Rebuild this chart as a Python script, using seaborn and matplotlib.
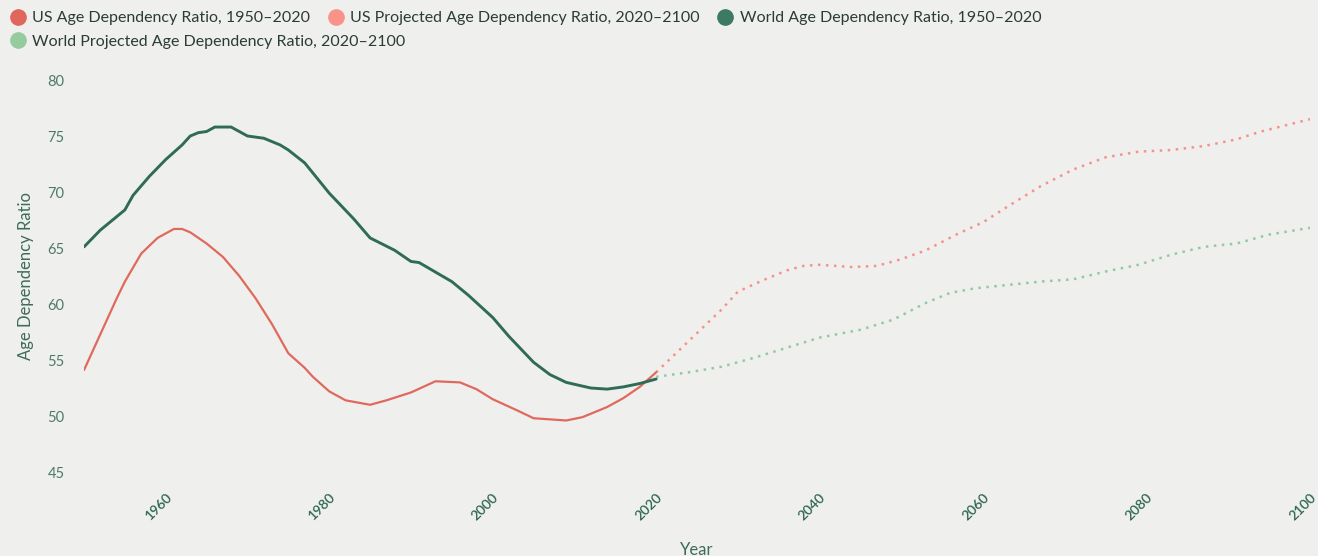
import numpy as np
import pandas as pd
import matplotlib
matplotlib.use("Agg")
import matplotlib.pyplot as plt
import matplotlib.transforms as mtransforms
from matplotlib.lines import Line2D
import seaborn as sns

# ---- data ----
us_years = [1950, 1952, 1954, 1955, 1957, 1959, 1960, 1961, 1962, 1963, 1965, 1967, 1969,
            1971, 1973, 1975, 1977, 1978, 1980, 1982, 1985, 1987, 1990, 1993, 1996, 1998,
            2000, 2003, 2005, 2007, 2009, 2011, 2014, 2016, 2018, 2020]
us_vals = [54.1, 57.3, 60.5, 62.0, 64.5, 65.9, 66.3, 66.7, 66.7, 66.4, 65.4, 64.2, 62.5,
           60.5, 58.2, 55.6, 54.3, 53.5, 52.2, 51.4, 51.0, 51.4, 52.1, 53.1, 53.0, 52.4,
           51.5, 50.5, 49.8, 49.7, 49.6, 49.9, 50.8, 51.6, 52.6, 53.9]

us_proj_years = [2020, 2022, 2025, 2028, 2030, 2033, 2036, 2038, 2040, 2044, 2047,
                 2050, 2053, 2057, 2060, 2063, 2067, 2071, 2075, 2079, 2083, 2087,
                 2091, 2094, 2100]
us_proj_vals = [53.9, 55.3, 57.4, 59.5, 61.1, 62.1, 63.0, 63.4, 63.5, 63.3, 63.4,
                64.0, 64.8, 66.3, 67.3, 68.7, 70.5, 72.0, 73.1, 73.6, 73.75, 74.1,
                74.7, 75.4, 76.5]

world_years = [1950, 1952, 1954, 1955, 1956, 1958, 1960, 1962, 1963, 1964, 1965, 1966, 1968,
               1970, 1972, 1974, 1975, 1977, 1980, 1983, 1985, 1988, 1990, 1991, 1995,
               1997, 2000, 2002, 2005, 2007, 2009, 2012, 2014, 2016, 2018, 2020]
world_vals = [65.1, 66.6, 67.8, 68.4, 69.7, 71.4, 72.9, 74.2, 75.0, 75.3, 75.4, 75.8, 75.8,
              75.0, 74.8, 74.2, 73.75, 72.6, 69.9, 67.6, 65.9, 64.8, 63.8, 63.7, 62.0,
              60.8, 58.8, 57.1, 54.8, 53.7, 53.0, 52.5, 52.4, 52.6, 52.9, 53.3]

world_proj_years = [2020, 2024, 2028, 2032, 2036, 2040, 2045, 2049, 2053, 2056, 2059,
                    2067, 2071, 2075, 2079, 2083, 2087, 2091, 2095, 2100]
world_proj_vals = [53.5, 53.9, 54.4, 55.2, 56.1, 57.0, 57.7, 58.6, 60.1, 61.0, 61.4,
                   62.0, 62.2, 62.9, 63.5, 64.4, 65.1, 65.4, 66.2, 66.8]

series_labels = ["US Age Dependency Ratio, 1950\u20132020",
                 "US Projected Age Dependency Ratio, 2020\u20132100",
                 "World Age Dependency Ratio, 1950\u20132020",
                 "World Projected Age Dependency Ratio, 2020\u20132100"]
x_ticks = [1960, 1980, 2000, 2020, 2040, 2060, 2080, 2100]
y_ticks = [45, 50, 55, 60, 65, 70, 75, 80]

# ---- style ----
BG = "#eff0ee"
sns.set_theme(style="white")
plt.rcParams["font.family"] = ["Lato", "DejaVu Sans"]

colors = ["#e0695d", "#f7918a", "#2f6b55", "#93c9a2"]
legend_colors = ["#e0675c", "#f9938a", "#3d7a66", "#96cba0"]

fig = plt.figure(figsize=(13.18, 5.56), dpi=100, facecolor=BG)
ax = fig.add_axes([84 / 1318, 1 - 472 / 556, (1310 - 84) / 1318, (472 - 80) / 556])
ax.set_facecolor(BG)

dfs = [
    pd.DataFrame({"Year": us_years, "Value": us_vals}),
    pd.DataFrame({"Year": us_proj_years, "Value": us_proj_vals}),
    pd.DataFrame({"Year": world_years, "Value": world_vals}),
    pd.DataFrame({"Year": world_proj_years, "Value": world_proj_vals}),
]
styles = [
    dict(lw=1.6, ls="-"),
    dict(lw=1.8, ls=(0, (1, 2.2))),
    dict(lw=2.1, ls="-"),
    dict(lw=1.8, ls=(0, (1, 2.2))),
]
order = [1, 3, 0, 2]
for i in order:
    sns.lineplot(data=dfs[i], x="Year", y="Value", ax=ax, color=colors[i],
                 linewidth=styles[i]["lw"], linestyle=styles[i]["ls"],
                 estimator=None, sort=True, legend=False,
                 solid_joinstyle="round", solid_capstyle="round",
                 zorder=3 + (i in (0, 2)))

ax.set_xlim(1950, 2100)
ax.set_ylim(45, 80)
ax.set_xticks(x_ticks)
ax.set_yticks(y_ticks)
for s in ax.spines.values():
    s.set_visible(False)
ax.tick_params(axis="both", length=0)
ax.tick_params(axis="y", pad=14, labelsize=10.5, labelcolor="#4d7a6a")
ax.tick_params(axis="x", pad=14, labelsize=10, labelcolor="#2d6650")
offset = mtransforms.ScaledTranslation(8 / 100, 0, fig.dpi_scale_trans)
for lab in ax.get_xticklabels():
    lab.set_rotation(45)
    lab.set_ha("right")
    lab.set_fontweight("semibold")
    lab.set_transform(lab.get_transform() + offset)

ax.set_xlabel("Year", fontsize=12, color="#3d6b5c")
ax.xaxis.set_label_coords(0.5, -0.178)
ax.set_ylabel("Age Dependency Ratio", fontsize=12, color="#3d6b5c")
ax.yaxis.set_label_coords(-0.041, 0.5)

handles = [Line2D([], [], marker="o", ls="none", markersize=11,
                  markerfacecolor=c, markeredgecolor=c) for c in legend_colors]
common = dict(frameon=False, fontsize=11.5, handlelength=1.0, handletextpad=0.4,
              columnspacing=1.1, borderpad=0, borderaxespad=0, labelcolor="#2b3b35")
leg1 = fig.legend(handles[:3], series_labels[:3], ncol=3, loc="center left",
                  bbox_to_anchor=(10 / 1318, 1 - 18 / 556), **common)
leg2 = fig.legend(handles[3:], series_labels[3:], ncol=1, loc="center left",
                  bbox_to_anchor=(10 / 1318, 1 - 42 / 556), **common)

fig.savefig("out.png", dpi=100, facecolor=BG)
